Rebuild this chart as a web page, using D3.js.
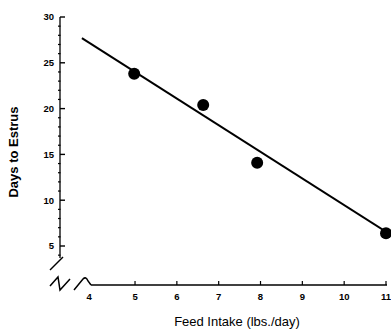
<!DOCTYPE html>
<html>
<head>
<meta charset="utf-8">
<script src="https://cdn.jsdelivr.net/npm/d3@7"></script>
<style>
  body { margin: 0; background: #fff; }
  svg { display: block; font-family: "Liberation Sans", Arial, sans-serif; }
</style>
</head>
<body>
<script>
// observed data
const feedIntake = [4.98, 6.63, 7.92, 11.0];
const daysToEstrus = [23.8, 20.4, 14.1, 6.4];
// fitted regression line end points
const fitX = [3.73, 11.12];
const fitY = [27.7, 6.2];
const xTicks = [4, 5, 6, 7, 8, 9, 10, 11];
const yTicks = [5, 10, 15, 20, 25, 30];

const width = 391, height = 333;
const svg = d3.select("body").append("svg").attr("width", width).attr("height", height);

const x = d3.scaleLinear().domain([4, 11]).range([93.2, 386]);
const y = d3.scaleLinear().domain([5, 30]).range([246, 17]);
const axisY = 285;

// y axis line
svg.append("line")
    .attr("x1", 60).attr("x2", 60)
    .attr("y1", y(30)).attr("y2", 258)
    .attr("stroke", "#000").attr("stroke-width", 1.3)

// minor ticks every unit
svg.append("g").selectAll("line")
    .data(d3.range(4, 30).filter(d => d % 5 !== 0))
    .join("line")
    .attr("x1", 58).attr("x2", 60.5)
    .attr("y1", d => y(d)).attr("y2", d => y(d))
    .attr("stroke", "#000").attr("stroke-width", 1.2)

const yMajor = svg.append("g").selectAll("g").data(yTicks).join("g")
    .attr("transform", d => `translate(60,${y(d)})`)
yMajor.append("line").attr("x1", 0).attr("x2", 5).attr("stroke", "#000").attr("stroke-width", 1.4)
yMajor.append("text")
    .attr("x", -6).attr("dy", "0.35em")
    .attr("text-anchor", "end")
    .attr("font-size", 9.5).attr("font-weight", "bold")
    .text(d => d)

// x axis line
svg.append("line")
    .attr("x1", 91).attr("x2", x(11) + 1)
    .attr("y1", axisY).attr("y2", axisY)
    .attr("stroke", "#000").attr("stroke-width", 1.3)

const xMajor = svg.append("g").selectAll("g").data(xTicks).join("g")
    .attr("transform", d => `translate(${x(d)},${axisY})`)
xMajor.filter(d => d !== 4).append("line")
    .attr("y1", 0).attr("y2", -4)
    .attr("stroke", "#000").attr("stroke-width", 1.2)
xMajor.append("text")
    .attr("x", d => d === 4 ? -4 : 0)
    .attr("y", 15)
    .attr("text-anchor", "middle")
    .attr("font-size", 9.5).attr("font-weight", "bold")
    .text(d => d)

// axis break marks
const brk = svg.append("g").attr("fill", "none").attr("stroke", "#000").attr("stroke-width", 1.5)
brk.append("path").attr("d", "M50,270 L63,257")
brk.append("path").attr("d", "M50,286 L58,277 L60,290 L70,279")
brk.append("path").attr("d", "M74,290 L83,279 Q86,276 88,281 L91,285")

// regression line
svg.append("line")
    .attr("x1", x(fitX[0])).attr("y1", y(fitY[0]))
    .attr("x2", x(fitX[1])).attr("y2", y(fitY[1]))
    .attr("stroke", "#000").attr("stroke-width", 2)

// points
svg.append("g").selectAll("circle")
    .data(feedIntake.map((d, i) => [d, daysToEstrus[i]]))
    .join("circle")
    .attr("cx", d => x(d[0])).attr("cy", d => y(d[1]))
    .attr("r", 6).attr("fill", "#000")

// axis titles
svg.append("text")
    .attr("x", 237).attr("y", 326)
    .attr("text-anchor", "middle")
    .attr("font-size", 13)
    .text("Feed Intake (lbs./day)")

svg.append("text")
    .attr("transform", "translate(18,152) rotate(-90)")
    .attr("text-anchor", "middle")
    .attr("font-size", 13).attr("font-weight", "bold")
    .text("Days to Estrus")
</script>
</body>
</html>
